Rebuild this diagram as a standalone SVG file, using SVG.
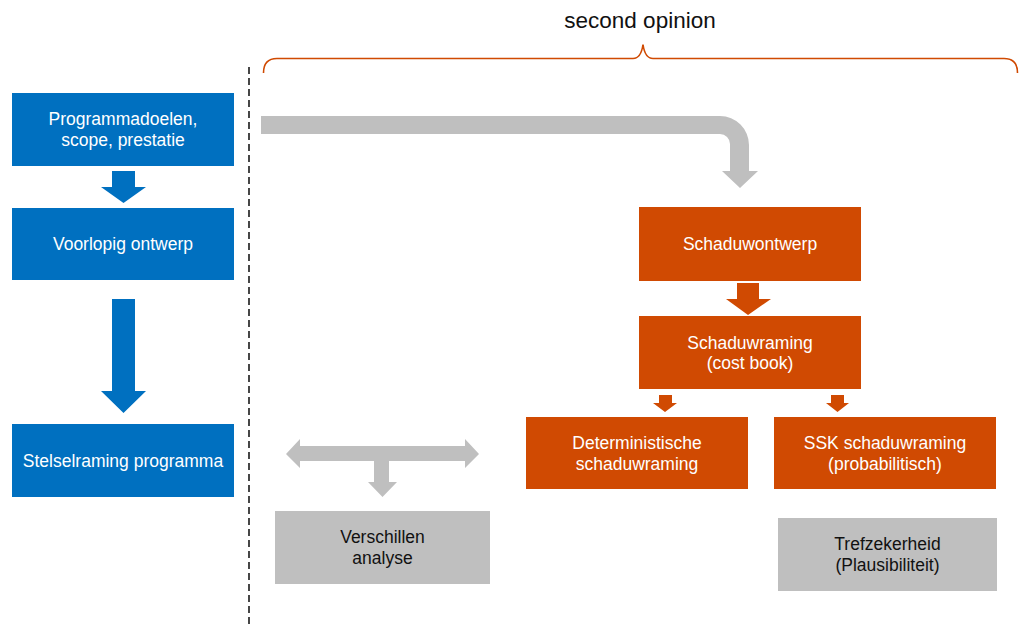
<svg xmlns="http://www.w3.org/2000/svg" width="1020" height="624" viewBox="0 0 1020 624">
<style>
.blue{fill:#0070C0}
.orange{fill:#D04A02}
.grey{fill:#BFBFBF}
.wt{font-family:"Liberation Sans",Arial,sans-serif;font-size:17.5px;fill:#FFFFFF;text-anchor:middle}
.bt{font-family:"Liberation Sans",Arial,sans-serif;font-size:17.5px;fill:#111111;text-anchor:middle}
</style>
<rect width="1020" height="624" fill="#FFFFFF"/>
<g id="header">
<text x="640" y="28" font-family="'Liberation Sans',Arial,sans-serif" font-size="22.5" fill="#111111" text-anchor="middle">second opinion</text>
<path d="M263.5,73 Q263.5,58.5 277,58.5 H633 Q641,58.5 643,44.5 Q645,58.5 653,58.5 H1004 Q1017.5,58.5 1017.5,73" fill="none" stroke="#D04A02" stroke-width="1.6"/>
</g>
<g id="divider">
<line x1="249" y1="67" x2="249" y2="624" stroke="#333333" stroke-width="1.8" stroke-dasharray="7 4"/>
</g>
<g id="connectors">
<path class="blue" d="M112,171 H135 V187 H146 L123.5,203 L101,187 H112 Z"/>
<path class="blue" d="M112,299 H135 V391 H146 L123.5,413 L101,391 H112 Z"/>
<path class="grey" d="M261,116 H720 A29,29 0 0 1 749,145 V171 H758 L740,188 L722,171 H730 V144 A10,10 0 0 0 720,134 H261 Z"/>
<path class="orange" d="M737,283 H759 V299 H771 L748,315 L726,299 H737 Z"/>
<path class="orange" d="M659,395 H672 V403 H677 L665,412 L653,403 H659 Z"/>
<path class="orange" d="M831,395 H844 V403 H849 L837.5,412 L826,403 H831 Z"/>
<path class="grey" d="M286,454 L300,439 V446 H465 V439 L479,454 L465,468 V461 H389 V482 H397 L382.5,497 L368,482 H374 V461 H300 V468 Z"/>
</g>
<g id="node-programmadoelen">
<rect class="blue" x="12" y="93" width="222" height="73"/>
<text class="wt" x="123" y="125">Programmadoelen,</text>
<text class="wt" x="123" y="146">scope, prestatie</text>
</g>
<g id="node-voorlopig">
<rect class="blue" x="12" y="208" width="222" height="72"/>
<text class="wt" x="123" y="250">Voorlopig ontwerp</text>
</g>
<g id="node-stelselraming">
<rect class="blue" x="12" y="424" width="222" height="73"/>
<text class="wt" x="123" y="467">Stelselraming programma</text>
</g>
<g id="node-schaduwontwerp">
<rect class="orange" x="639" y="207" width="222" height="74"/>
<text class="wt" x="750" y="250">Schaduwontwerp</text>
</g>
<g id="node-schaduwraming">
<rect class="orange" x="639" y="316" width="222" height="73"/>
<text class="wt" x="750" y="348.5">Schaduwraming</text>
<text class="wt" x="750" y="369">(cost book)</text>
</g>
<g id="node-deterministische">
<rect class="orange" x="526" y="417" width="222" height="72"/>
<text class="wt" x="637" y="449">Deterministische</text>
<text class="wt" x="637" y="469.5">schaduwraming</text>
</g>
<g id="node-ssk">
<rect class="orange" x="774" y="417" width="222" height="72"/>
<text class="wt" x="885" y="449">SSK schaduwraming</text>
<text class="wt" x="885" y="469.5">(probabilitisch)</text>
</g>
<g id="node-verschillen">
<rect class="grey" x="275" y="511" width="215" height="73"/>
<text class="bt" x="382.5" y="543">Verschillen</text>
<text class="bt" x="382.5" y="563.5">analyse</text>
</g>
<g id="node-trefzekerheid">
<rect class="grey" x="778" y="518" width="219" height="73"/>
<text class="bt" x="887.5" y="550">Trefzekerheid</text>
<text class="bt" x="887.5" y="570.5">(Plausibiliteit)</text>
</g>
</svg>
